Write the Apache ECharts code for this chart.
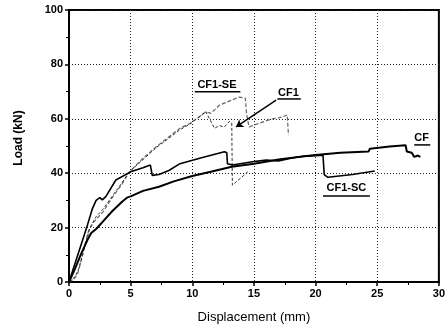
<!DOCTYPE html>
<html>
<head>
<meta charset="utf-8">
<script src="https://cdn.jsdelivr.net/npm/echarts@6/dist/echarts.min.js"></script>
<style>
  html, body { margin: 0; padding: 0; background: #fff; }
  #chart { width: 448px; height: 331px; }
</style>
</head>
<body>
<div id="chart"></div>
<script>
  // load - displacement curves
  const cfData = [
    [0, 0], [0.5, 5], [1, 10.5], [1.5, 15.5], [1.8, 18], [2.2, 19.5], [2.8, 22.5],
    [3.5, 26], [4.3, 29.5], [4.7, 31], [5, 31.5], [6, 33.5], [7.3, 35], [8.5, 37],
    [10, 39], [11.5, 40.5], [13.2, 42.4], [15, 43.5], [17, 45], [18.6, 46], [20, 46.7],
    [22, 47.5], [24.3, 48], [24.4, 49], [26, 49.8], [27.3, 50.3], [27.4, 48],
    [27.8, 47.5], [28, 46], [28.3, 46.5], [28.5, 46]
  ];
  const cf1scData = [
    [0, 0], [0.5, 7], [1, 14], [1.5, 21], [1.9, 27], [2.2, 30], [2.5, 31], [2.7, 30.2],
    [3, 31.5], [3.8, 37.5], [5, 40.5], [6, 42], [6.6, 43], [6.75, 39.2], [7.3, 39.5],
    [8.1, 41], [9, 43.5], [10.6, 45.5], [12.6, 47.9], [12.8, 47.5], [12.85, 43.5],
    [13.25, 43], [15, 44.3], [16, 44.8], [17, 44.5], [18, 45.5], [19, 46.2],
    [20.6, 46.6], [20.7, 39.5], [21, 38.5], [23, 39.5], [24.8, 40.8]
  ];
  const cf1seData = [
    [0, 0], [0.4, 1], [0.7, 3], [1, 8], [1.3, 14], [1.6, 19], [2, 22], [2.8, 26],
    [3.5, 31], [4.3, 36], [4.9, 40.5], [6, 45.5], [7.1, 49.8], [8, 53], [9, 56.5],
    [9.8, 58.3], [10.5, 60.5], [11.1, 62.6], [11.5, 62], [12.2, 65], [13, 66.5],
    [13.8, 68], [14.3, 67.6], [14.4, 62], [14.6, 57], [15.5, 58.5], [16.5, 60],
    [17.2, 60.5], [17.7, 61.4], [17.8, 54]
  ];
  const cf1Data = [
    [0, 0], [0.5, 2], [0.8, 5], [1.1, 10], [1.4, 15], [1.7, 20], [2.2, 24], [2.8, 27],
    [3.5, 31.5], [4.3, 36.5], [4.9, 40.5], [6, 45], [7.1, 49.5], [8, 52.5], [9, 56],
    [9.8, 58], [10.5, 60.5], [11.1, 62.6], [11.8, 56.5], [12.2, 57.5], [12.6, 57],
    [13, 59], [13.2, 58.5], [13.25, 35.6], [13.6, 37], [14, 38.5], [14.5, 40.5]
  ];

  // curve labels: text anchor and underline span, in data units
  const curveLabels = [
    { text: 'CF1-SE', at: [12.0, 72.4], line: [10.2, 13.9, 69.9] },
    { text: 'CF1', at: [17.8, 69.5], line: [16.9, 18.8, 67.3] },
    { text: 'CF', at: [28.6, 52.9], line: [28.0, 29.3, 50.4] },
    { text: 'CF1-SC', at: [22.5, 34.6], line: [20.6, 24.4, 31.6] }
  ];
  const cf1Arrow = [[16.8, 66.9], [13.55, 57]];

  const chart = echarts.init(document.getElementById('chart'));

  const tickFont = { color: '#000', fontSize: 11, fontWeight: 'bold', fontFamily: 'Liberation Sans' };

  chart.setOption({
    animation: false,
    grid: {
      left: 69, right: 7, top: 10, bottom: 49,
      show: true, borderColor: '#000', borderWidth: 2
    },
    xAxis: {
      type: 'value', min: 0, max: 30, interval: 5,
      name: 'Displacement (mm)', nameLocation: 'middle', nameGap: 29,
      nameTextStyle: { color: '#000', fontSize: 13, fontFamily: 'Liberation Sans' },
      axisLine: { lineStyle: { color: '#000', width: 2 } },
      axisTick: { inside: false, length: 4, lineStyle: { color: '#000', width: 1.5 } },
      minorTick: { show: true, splitNumber: 2, length: 3, lineStyle: { color: '#000' } },
      axisLabel: Object.assign({ margin: 6 }, tickFont),
      splitLine: { show: true, lineStyle: { color: '#222', type: [1, 2], width: 1 } }
    },
    yAxis: {
      type: 'value', min: 0, max: 100, interval: 20,
      name: 'Load (kN)', nameLocation: 'middle', nameGap: 44,
      nameTextStyle: {
        color: '#000', fontSize: 12, fontWeight: 'bold', fontFamily: 'Liberation Sans',
        padding: [0, 0, 0, 16]
      },
      axisLine: { lineStyle: { color: '#000', width: 2 } },
      axisTick: { inside: false, length: 4, lineStyle: { color: '#000', width: 1.5 } },
      minorTick: { show: true, splitNumber: 2, length: 3, lineStyle: { color: '#000' } },
      axisLabel: Object.assign({ margin: 6 }, tickFont),
      splitLine: { show: true, lineStyle: { color: '#222', type: [1, 2], width: 1 } }
    },
    series: [
      {
        name: 'CF1-SE', type: 'line', data: cf1seData, showSymbol: false,
        lineStyle: { color: '#666', width: 1.2, type: [4, 2] }
      },
      {
        name: 'CF1', type: 'line', data: cf1Data, showSymbol: false,
        lineStyle: { color: '#333', width: 1, type: [3, 2] },
        markLine: {
          silent: true, symbol: ['none', 'arrow'], symbolSize: 7,
          lineStyle: { color: '#000', width: 1.5, type: 'solid' },
          label: { show: false },
          data: [[{ coord: cf1Arrow[0] }, { coord: cf1Arrow[1] }]]
        }
      },
      {
        name: 'CF1-SC', type: 'line', data: cf1scData, showSymbol: false,
        lineStyle: { color: '#000', width: 1.6 }
      },
      {
        name: 'CF', type: 'line', data: cfData, showSymbol: false,
        lineStyle: { color: '#000', width: 2 }
      }
    ]
  });

  // underlined bold curve names
  const graphics = [];
  curveLabels.forEach(function (lb) {
    const p = chart.convertToPixel({ gridIndex: 0 }, lb.at);
    const a = chart.convertToPixel({ gridIndex: 0 }, [lb.line[0], lb.line[2]]);
    const b = chart.convertToPixel({ gridIndex: 0 }, [lb.line[1], lb.line[2]]);
    graphics.push({
      type: 'text', x: p[0], y: p[1], z: 10,
      style: {
        text: lb.text, fill: '#000', font: 'bold 11px "Liberation Sans"',
        align: 'center', verticalAlign: 'middle'
      }
    });
    graphics.push({
      type: 'line', z: 10,
      shape: { x1: a[0], y1: a[1], x2: b[0], y2: b[1] },
      style: { stroke: '#000', lineWidth: 1.5 }
    });
  });
  chart.setOption({ graphic: graphics });
</script>
</body>
</html>
